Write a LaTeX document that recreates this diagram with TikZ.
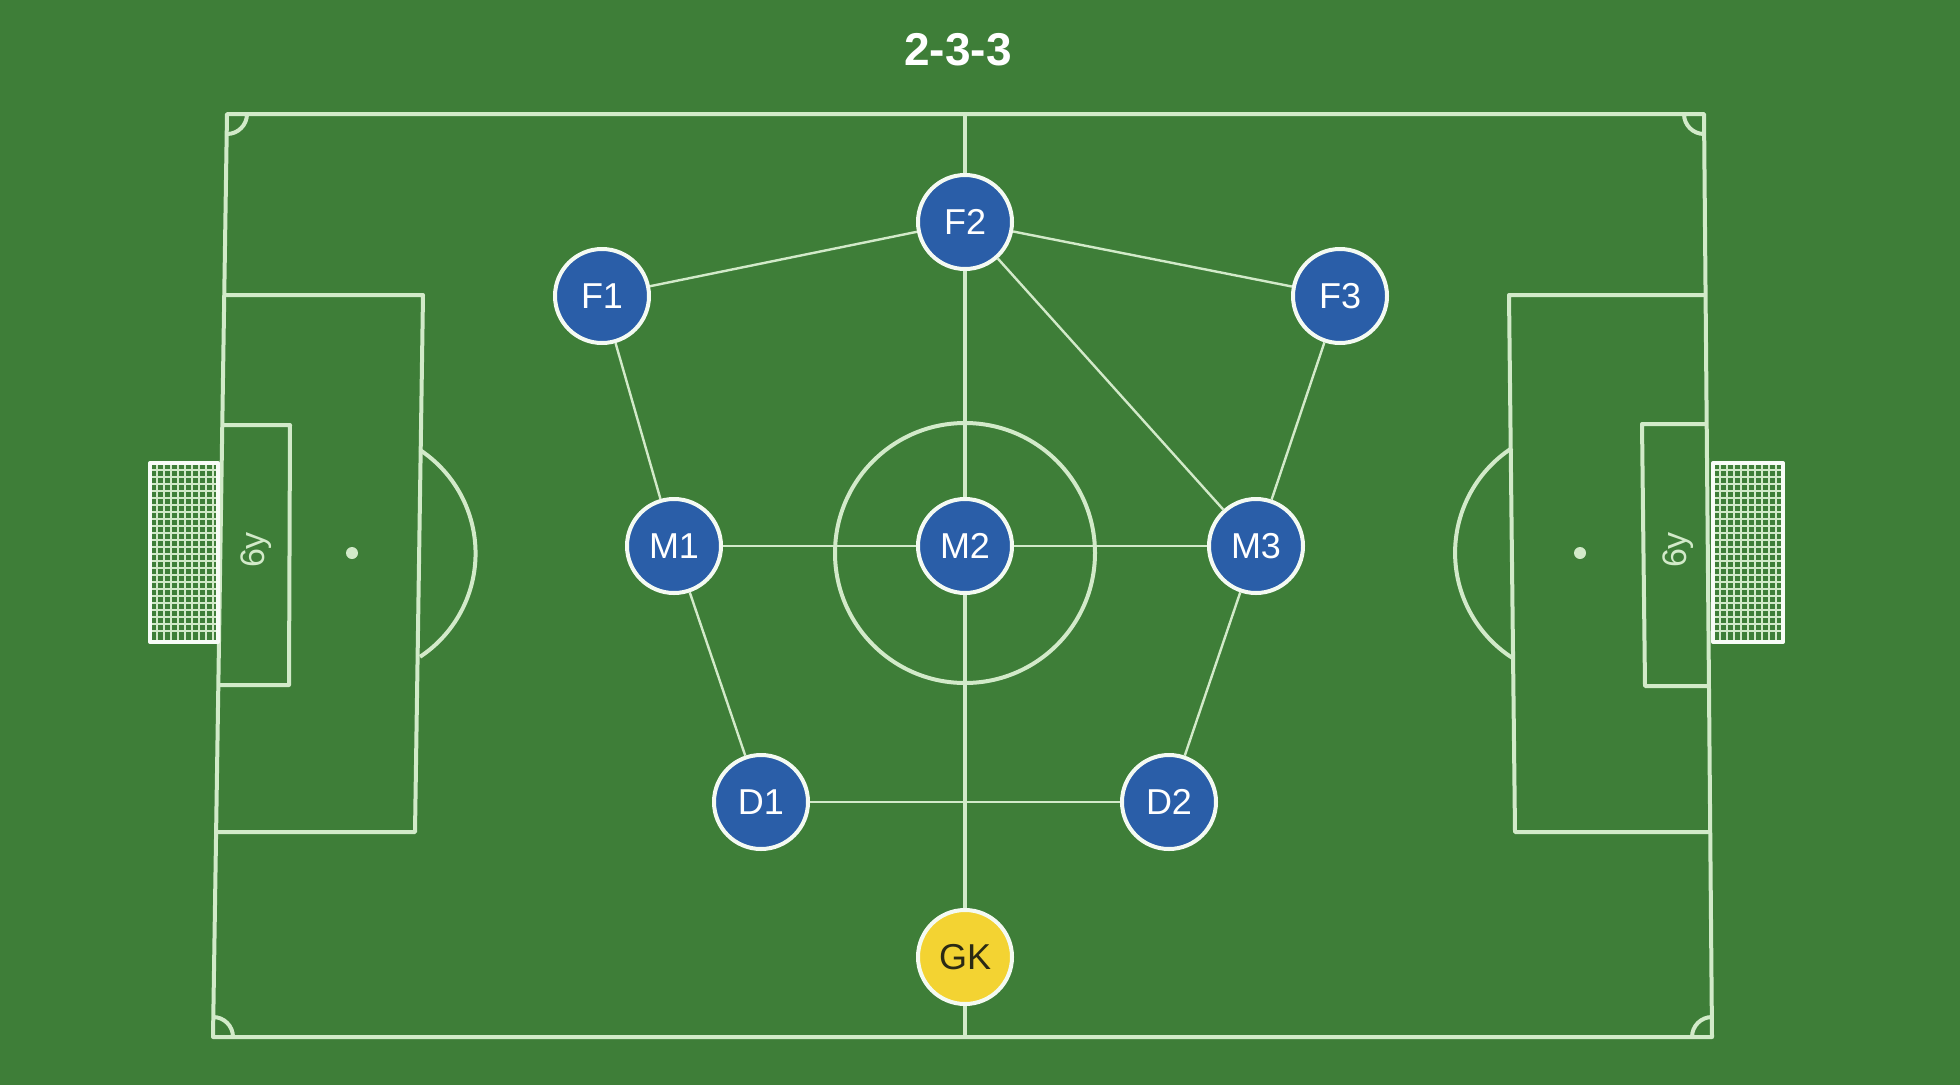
\documentclass[tikz,border=0pt]{standalone}
\usepackage{fontspec}
\setmainfont{Liberation Sans}
\usetikzlibrary{positioning}
\definecolor{grass}{HTML}{3E7E38}
\definecolor{chalk}{HTML}{D2EAC9}
\definecolor{kit}{HTML}{2A5EA8}
\definecolor{keeper}{HTML}{F3D332}
\definecolor{gktext}{HTML}{2B2A14}

\begin{document}
\begin{tikzpicture}[x=1pt,y=-1pt,
  pitch/.style={draw=chalk,line width=4pt,line join=round},
  netline/.style={draw=chalk,line width=1.1pt},
  link/.style={draw=chalk,line width=2.4pt},
  player/.style={circle,fill=kit,draw=white!75!chalk,line width=4pt,minimum size=94pt,inner sep=0pt,
    text=white,font=\fontsize{36}{40}\selectfont}]
\fill[grass] (0,0) rectangle (1960,1085);
\useasboundingbox (0,0) rectangle (1960,1085);
\node[text=white,font=\bfseries\fontsize{46}{50}\selectfont] (title) at (958,50) {2-3-3};
% pitch
\draw[pitch] (227,114) -- (1704,114) -- (1712,1037) -- (213,1037) -- cycle;
\draw[pitch] (965,114) -- (965,1037);
\draw[pitch] (965,553) circle[radius=130];
\draw[pitch] (224,295) -- (423,295) -- (415,832) -- (216,832);
\draw[pitch] (222,425) -- (290,425) -- (289,685) -- (219,685);
\draw[pitch] (1705,295) -- (1509,295) -- (1515,832) -- (1711,832);
\draw[pitch] (1706,424) -- (1642,424) -- (1645,686) -- (1710,686);
\draw[pitch] (420,450) arc[start angle=-56.5,end angle=56.5,radius=124];
\draw[pitch] (1512,448) arc[start angle=237,end angle=123,radius=125];
\fill[chalk] (352,553) circle[radius=6];
\fill[chalk] (1580,553) circle[radius=6];
\draw[pitch] (247,114) arc[start angle=0,end angle=90,radius=20];
\draw[pitch] (1684,114) arc[start angle=180,end angle=90,radius=20];
\draw[pitch] (233,1037) arc[start angle=0,end angle=-90,radius=20];
\draw[pitch] (1692,1037) arc[start angle=180,end angle=270,radius=20];
\node[rotate=90,text=chalk,font=\fontsize{34}{36}\selectfont] (sixL) at (256,550) {6y};
\node[rotate=90,text=chalk,font=\fontsize{34}{36}\selectfont] (sixR) at (1678,550) {6y};
% goals
\foreach \g in {157,164,...,213} {
  \draw[netline] (\g,463) -- (\g,642);
  \draw[netline] (\g+1563,463) -- (\g+1563,642);
}
\foreach \g in {470,477,...,636} {
  \draw[netline] (150,\g) -- (218,\g);
  \draw[netline] (1713,\g) -- (1783,\g);
}
\draw[pitch,draw=white!85!chalk] (150,463) rectangle (218,642);
\draw[pitch,draw=white!85!chalk] (1713,463) rectangle (1783,642);
% players
\node[player] (F1) at (602,296) {F1};
\node[player] (F2) at (965,222) {F2};
\node[player] (F3) at (1340,296) {F3};
\node[player] (M1) at (674,546) {M1};
\node[player] (M2) at (965,546) {M2};
\node[player] (M3) at (1256,546) {M3};
\node[player] (D1) at (761,802) {D1};
\node[player] (D2) at (1169,802) {D2};
\node[player,fill=keeper,text=gktext] (GK) at (965,957) {GK};
\draw[link] (F1) -- (F2);
\draw[link] (F2) -- (F3);
\draw[link] (F1) -- (M1);
\draw[link] (F3) -- (M3);
\draw[link] (F2) -- (M2);
\draw[link] (F2) -- (M3);
\draw[link] (M1) -- (M2);
\draw[link] (M2) -- (M3);
\draw[link] (M1) -- (D1);
\draw[link] (M3) -- (D2);
\draw[link] (D1) -- (D2);
\draw[link] (M2) -- (GK);
\end{tikzpicture}
\end{document}
